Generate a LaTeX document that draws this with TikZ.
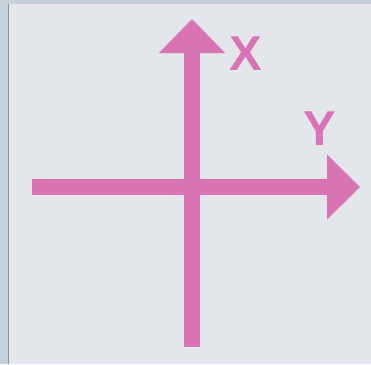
\documentclass[tikz,border=0pt]{standalone}
\usepackage{fontspec}
\setmainfont{Liberation Sans}
\definecolor{axispink}{HTML}{D874B4}
\definecolor{bginner}{HTML}{E3E6EA}
\definecolor{bgframe}{HTML}{C7CFD9}
\definecolor{frameline}{HTML}{8791A1}
\tikzset{
  shaft/.style={line width=16pt, draw=axispink, line cap=butt},
  headtip/.style={fill=axispink, draw=none},
  axlabel/.style={text=axispink, font=\fontsize{49}{49}\selectfont\bfseries, inner sep=0pt, anchor=center}
}
\begin{document}
\begin{tikzpicture}[x=1pt,y=-1pt]
  \useasboundingbox (0,0) rectangle (371,364);
  % background
  \fill[bgframe] (0,0) rectangle (371,364);
  \fill[bginner] (9,4) rectangle (371,364);
  \fill[frameline] (7.5,4) rectangle (9.2,364);
  % coordinates
  \coordinate (xbase) at (192,347);
  \coordinate (xneck) at (192,53);
  \coordinate (xtip) at (192,19);
  \coordinate (ybase) at (32,187);
  \coordinate (yneck) at (327,187);
  \coordinate (ytip) at (360,187);
  % shafts
  \draw[shaft] (xbase) -- ([yshift=2pt]xneck);
  \draw[shaft] (ybase) -- ([xshift=2pt]yneck);
  % heads
  \fill[headtip] ([xshift=-33pt]xneck) -- (xtip) -- ([xshift=33pt]xneck) -- cycle;
  \fill[headtip] ([yshift=-32.5pt]yneck) -- (ytip) -- ([yshift=32.5pt]yneck) -- cycle;
  % labels
  \node[axlabel] (lx) at (246,54) {X};
  \node[axlabel] (ly) at (320,129) {Y};
\end{tikzpicture}
\end{document}
